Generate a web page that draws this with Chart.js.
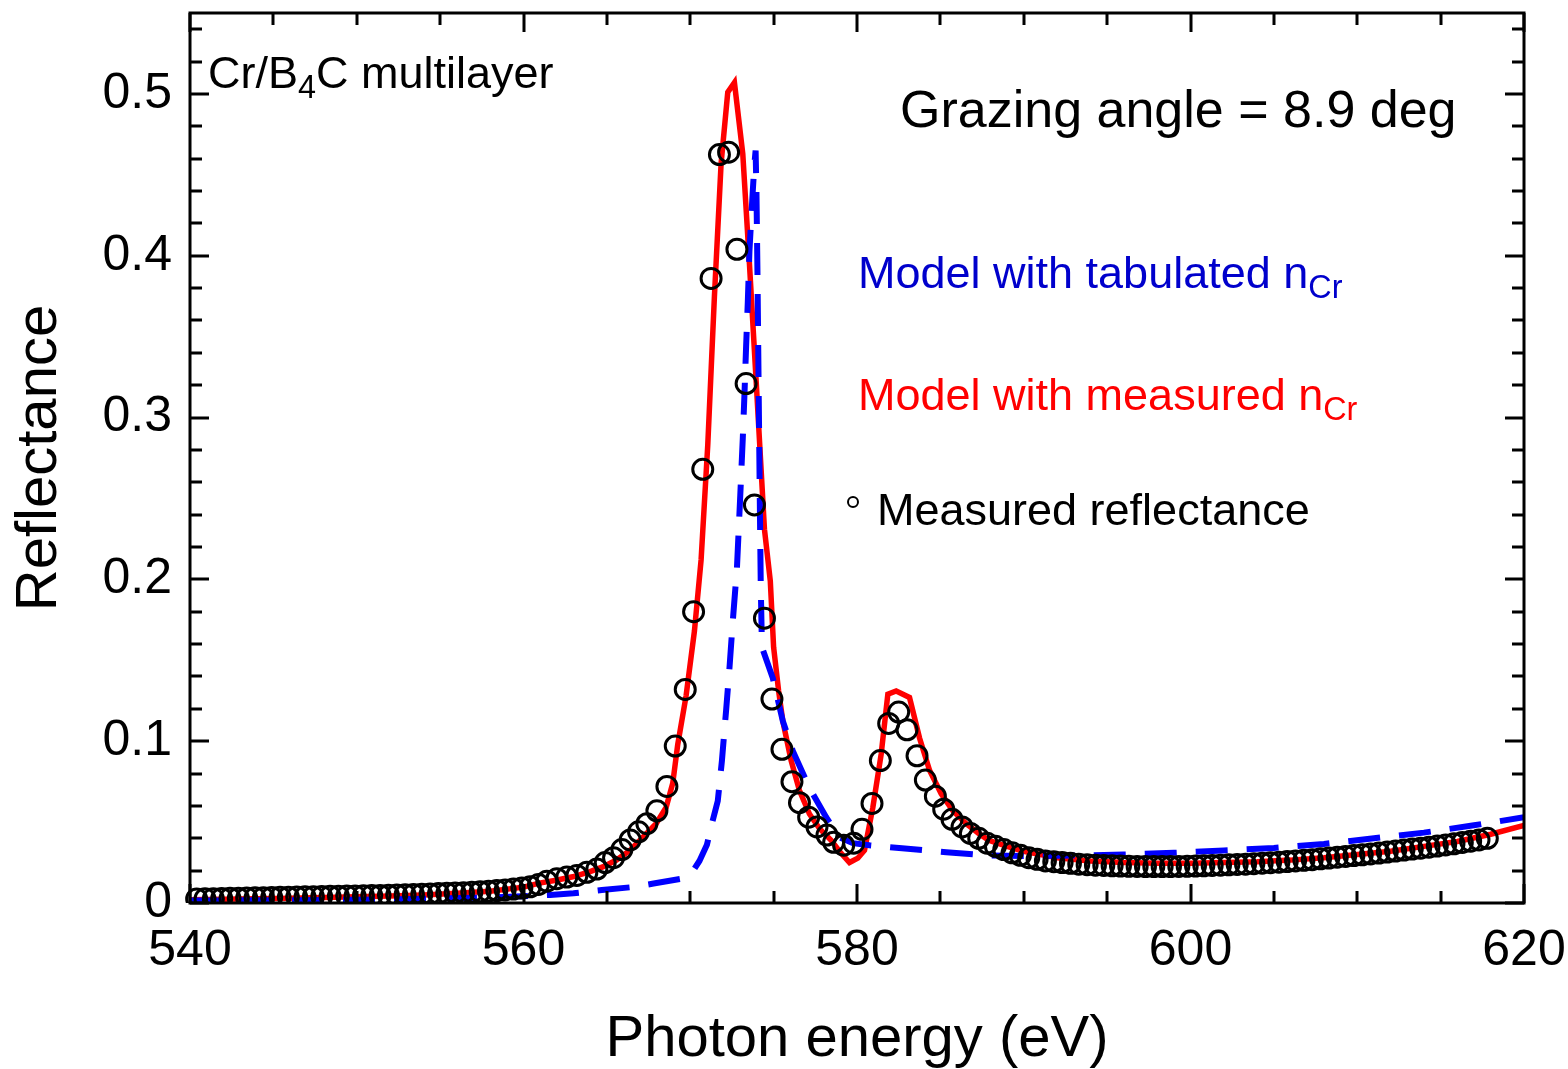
<!DOCTYPE html>
<html>
<head>
<meta charset="utf-8">
<script src="https://cdn.jsdelivr.net/npm/chart.js@4.4.1/dist/chart.umd.min.js"></script>
<style>
    html, body { margin: 0; padding: 0; background: #fff; }
    #wrap { width: 1568px; height: 1069px; }
</style>
</head>
<body>
<div id="wrap"><canvas id="myChart" width="1568" height="1069"></canvas></div>
<script>
// axis ticks
const xTicks = [540, 560, 580, 600, 620];
const yTicks = [0, 0.1, 0.2, 0.3, 0.4, 0.5];

// measured reflectance (circles)
const measE = [
    540.4, 540.9, 541.4, 541.9, 542.4, 542.9, 543.4, 543.9, 544.4, 544.9,
    545.4, 545.9, 546.4, 546.9, 547.4, 547.9, 548.4, 548.9, 549.4, 549.9,
    550.4, 550.9, 551.4, 551.9, 552.4, 552.9, 553.4, 553.9, 554.4, 554.9,
    555.4, 555.9, 556.4, 556.9, 557.4, 557.9, 558.4, 558.9, 559.4, 559.9,
    560.4, 560.9, 561.4, 562.0, 562.6, 563.2, 563.8, 564.4, 564.9, 565.4,
    565.9, 566.4, 566.9, 567.4, 568.0, 568.6, 569.1, 569.7, 570.2, 570.75,
    571.25, 571.75, 572.3, 572.8, 573.35, 573.85, 574.45, 574.9, 575.5, 576.1,
    576.55, 577.1, 577.6, 578.2, 578.6, 579.2, 579.8, 580.3, 580.9, 581.4,
    581.9, 582.5, 583.0, 583.6, 584.1, 584.7, 585.2, 585.7, 586.3, 586.8,
    587.3, 587.8, 588.3, 588.8, 589.3, 589.8, 590.3, 590.8, 591.3, 591.8,
    592.3, 592.8, 593.3, 593.8, 594.3, 594.8, 595.3, 595.8, 596.3, 596.8,
    597.3, 597.8, 598.3, 598.8, 599.3, 599.8, 600.3, 600.8, 601.3, 601.8,
    602.3, 602.8, 603.3, 603.8, 604.3, 604.8, 605.3, 605.8, 606.3, 606.8,
    607.3, 607.8, 608.3, 608.8, 609.3, 609.8, 610.3, 610.8, 611.3, 611.8,
    612.3, 612.8, 613.3, 613.8, 614.3, 614.8, 615.3, 615.8, 616.3, 616.8,
    617.3, 617.8
];
const measR = [
    0.0025, 0.0026, 0.0027, 0.0028, 0.0029, 0.0030, 0.0031, 0.0032, 0.0033, 0.0034,
    0.0035, 0.0036, 0.0037, 0.0038, 0.0039, 0.0040, 0.0041, 0.0042, 0.0043, 0.0044,
    0.0045, 0.0046, 0.0047, 0.0048, 0.0050, 0.0051, 0.0053, 0.0054, 0.0056, 0.0058,
    0.0060, 0.0062, 0.0064, 0.0067, 0.0070, 0.0073, 0.0077, 0.0081, 0.0086, 0.0092,
    0.0100, 0.0115, 0.0135, 0.015, 0.016, 0.017, 0.019, 0.021, 0.025, 0.028,
    0.033, 0.039, 0.044, 0.049, 0.057, 0.072, 0.097, 0.132, 0.180, 0.268,
    0.386, 0.4625, 0.464, 0.404, 0.321, 0.246, 0.176, 0.126, 0.095, 0.075,
    0.062, 0.053, 0.047, 0.042, 0.0375, 0.0357, 0.037, 0.0455, 0.0615, 0.088,
    0.111, 0.118, 0.107, 0.091, 0.076, 0.066, 0.058, 0.0517, 0.047, 0.043,
    0.040, 0.037, 0.035, 0.033, 0.031, 0.0295, 0.028, 0.027, 0.026, 0.0255,
    0.025, 0.0245, 0.024, 0.0237, 0.0234, 0.0232, 0.023, 0.0228, 0.0227, 0.0226,
    0.0225, 0.0225, 0.0225, 0.0225, 0.0226, 0.0227, 0.0228, 0.023, 0.0232, 0.0234,
    0.0236, 0.0238, 0.024, 0.0243, 0.0246, 0.0249, 0.0252, 0.0256, 0.026, 0.0264,
    0.0268, 0.0273, 0.0278, 0.0283, 0.0288, 0.0293, 0.0298, 0.0303, 0.0309, 0.0315,
    0.0321, 0.0327, 0.0333, 0.0339, 0.0345, 0.0352, 0.0359, 0.0366, 0.0374, 0.0382,
    0.039, 0.0400
];

// model with measured n_Cr (red solid)
const redE = [
    540, 542, 544, 546, 548, 550, 552, 554, 556, 558,
    560, 560.95, 561.95, 562.95, 563.95, 564.75, 565.55, 566.4, 567.15, 567.95,
    568.55, 568.95, 569.25, 569.75, 570.25, 570.65, 571.05, 571.45, 571.85, 572.25,
    572.65, 573.15, 573.55, 573.95, 574.45, 574.8, 575.0, 575.3, 575.55, 576.05,
    576.55, 577.15, 577.75, 578.45, 579.05, 579.55, 580.05, 580.45, 580.95, 581.45,
    581.85, 582.35, 583.15, 583.75, 584.35, 585.05, 585.75, 586.55, 587.3, 587.9,
    589, 590, 591, 592, 594, 596, 598, 600, 602, 604,
    606, 608, 610, 612, 614, 616, 618, 620
];
const redR = [
    0.002, 0.0023, 0.0026, 0.003, 0.0034, 0.0038, 0.0043, 0.005, 0.006, 0.0072,
    0.0098, 0.0123, 0.0141, 0.0162, 0.0193, 0.0223, 0.0264, 0.0326, 0.0406, 0.049,
    0.059, 0.074, 0.098, 0.128, 0.168, 0.212, 0.283, 0.375, 0.457, 0.501,
    0.507, 0.463, 0.395, 0.323, 0.231, 0.199, 0.158, 0.131, 0.1125, 0.088,
    0.0695, 0.055, 0.046, 0.0387, 0.0307, 0.025, 0.0277, 0.0326, 0.059, 0.092,
    0.129, 0.131, 0.127, 0.102, 0.082, 0.0675, 0.057, 0.049, 0.043, 0.0387,
    0.035, 0.032, 0.030, 0.028, 0.026, 0.025, 0.0245, 0.0245, 0.025, 0.0255,
    0.0265, 0.028, 0.030, 0.032, 0.035, 0.038, 0.0425, 0.048
];

// model with tabulated n_Cr (blue dashed)
const blueE = [
    540, 545, 550, 555, 558.4, 561.6, 563, 564.7, 566.5, 567.8,
    569.5, 570.05, 570.55, 571.0, 571.25, 571.65, 571.9, 572.15, 572.35, 572.55,
    572.8, 573.0, 573.15, 573.25, 573.35, 573.45, 573.55, 573.65, 573.75, 573.85,
    573.92, 573.97, 574.03, 574.08, 574.13, 574.18, 574.23, 574.3, 574.95, 575.55,
    576.15, 577.15, 578.15, 578.95, 579.75, 580.75, 582.7, 585.35, 587.7, 590,
    593, 596, 599, 602, 605, 608, 611, 614, 617, 620
];
const blueR = [
    0.0015, 0.0017, 0.002, 0.0028, 0.0035, 0.005, 0.006, 0.008, 0.0098, 0.012,
    0.015, 0.018, 0.026, 0.036, 0.047, 0.063, 0.088, 0.119, 0.145, 0.174,
    0.207, 0.252, 0.287, 0.314, 0.344, 0.371, 0.403, 0.422, 0.440, 0.457,
    0.465, 0.44, 0.39, 0.34, 0.29, 0.24, 0.195, 0.158, 0.139, 0.1125,
    0.094, 0.071, 0.053, 0.0406, 0.037, 0.0357, 0.0338, 0.0314, 0.0295, 0.029,
    0.0293, 0.030, 0.031, 0.0325, 0.034, 0.0365, 0.040, 0.0435, 0.048, 0.053
];

const FONT = "'Liberation Sans', Arial, Helvetica, sans-serif";

const toPoints = (xs, ys) => xs.map((x, i) => ({ x: x, y: ys[i] }));

// frame with inward ticks on all four sides
const framePlugin = {
    id: "frame",
    afterDatasetsDraw(chart) {
        const { ctx, chartArea: a, scales: { x, y } } = chart;
        ctx.save();
        ctx.strokeStyle = "#000";
        ctx.lineWidth = 3;
        ctx.lineCap = "butt";
        ctx.beginPath();
        for (let v = 540; v <= 620; v += 5) {
            const len = v % 20 === 0 ? 19 : 12;
            const px = Math.round(x.getPixelForValue(v));
            ctx.moveTo(px, a.bottom); ctx.lineTo(px, a.bottom - len);
            ctx.moveTo(px, a.top); ctx.lineTo(px, a.top + len);
        }
        for (let k = 0; k <= 27; k++) {
            const len = k % 5 === 0 ? 19 : 12;
            const py = Math.round(y.getPixelForValue(k * 0.02));
            ctx.moveTo(a.left, py); ctx.lineTo(a.left + len, py);
            ctx.moveTo(a.right, py); ctx.lineTo(a.right - len, py);
        }
        ctx.stroke();
        ctx.strokeRect(a.left, a.top, a.right - a.left, a.bottom - a.top);
        ctx.restore();
    }
};

// annotation texts with subscripts
const notesPlugin = {
    id: "notes",
    afterDraw(chart) {
        const ctx = chart.ctx;
        ctx.save();
        ctx.textAlign = "left";
        ctx.textBaseline = "alphabetic";

        function write(x, y, parts, size, color) {
            ctx.fillStyle = color;
            parts.forEach(p => {
                const s = p.sub ? size * 0.72 : size;
                ctx.font = s + "px " + FONT;
                ctx.fillText(p.t, x, p.sub ? y + size * 0.22 : y);
                x += ctx.measureText(p.t).width;
            });
        }

        write(208, 88, [{ t: "Cr/B" }, { t: "4", sub: true }, { t: "C multilayer" }], 45, "#000");
        write(900, 127, [{ t: "Grazing angle = 8.9 deg" }], 52, "#000");
        write(858, 288, [{ t: "Model with tabulated n" }, { t: "Cr", sub: true }], 45, "#0000cc");
        write(858, 410, [{ t: "Model with measured n" }, { t: "Cr", sub: true }], 45, "#ff0000");
        write(877, 525, [{ t: "Measured reflectance" }], 45, "#000");

        ctx.beginPath();
        ctx.arc(853, 502, 5, 0, Math.PI * 2);
        ctx.lineWidth = 2;
        ctx.strokeStyle = "#000";
        ctx.stroke();
        ctx.restore();
    }
};

new Chart(document.getElementById("myChart"), {
    type: "scatter",
    data: {
        datasets: [
            {
                label: "Measured reflectance",
                data: toPoints(measE, measR),
                showLine: false,
                pointStyle: "circle",
                pointRadius: 10,
                pointBorderWidth: 3,
                pointBorderColor: "#000",
                pointBackgroundColor: "rgba(0,0,0,0)",
                clip: { left: 12, top: 12, right: 12, bottom: 0 },
            },
            {
                label: "Model with tabulated n_Cr",
                data: toPoints(blueE, blueR),
                showLine: true,
                borderColor: "#0000ff",
                borderWidth: 6,
                borderDash: [32, 19],
                pointRadius: 0,
                tension: 0,
                clip: 0,
            },
            {
                label: "Model with measured n_Cr",
                data: toPoints(redE, redR),
                showLine: true,
                borderColor: "#ff0000",
                borderWidth: 5.5,
                pointRadius: 0,
                tension: 0,
                clip: 0,
            },
        ],
    },
    options: {
        responsive: false,
        animation: false,
        devicePixelRatio: 1,
        layout: { padding: { top: 10, right: 44, left: 0, bottom: 0 } },
        plugins: {
            legend: { display: false },
            tooltip: { enabled: false },
        },
        scales: {
            x: {
                type: "linear",
                min: 540,
                max: 620,
                afterBuildTicks: s => { s.ticks = xTicks.map(v => ({ value: v })); },
                afterFit: s => { s.height = 166; s.paddingLeft = 0; s.paddingRight = 0; },
                grid: { display: false, drawTicks: false },
                border: { display: false },
                ticks: {
                    padding: 18,
                    color: "#000",
                    font: { family: FONT, size: 50 },
                    maxRotation: 0,
                    autoSkip: false,
                },
                title: {
                    display: true,
                    text: "Photon energy (eV)",
                    color: "#000",
                    font: { family: FONT, size: 58, lineHeight: 1 },
                    padding: { top: 0, bottom: 0 },
                },
            },
            y: {
                type: "linear",
                min: 0,
                max: 0.55,
                afterBuildTicks: s => { s.ticks = yTicks.map(v => ({ value: v })); },
                afterFit: s => { s.width = 190; s.paddingTop = 0; s.paddingBottom = 0; },
                grid: { display: false, drawTicks: false },
                border: { display: false },
                ticks: {
                    padding: 18,
                    color: "#000",
                    font: { family: FONT, size: 50 },
                    callback: v => v === 0 ? "0" : v.toFixed(1),
                },
                title: {
                    display: true,
                    text: "Reflectance",
                    color: "#000",
                    font: { family: FONT, size: 58, lineHeight: 1 },
                    padding: { top: 11, bottom: 0 },
                },
            },
        },
    },
    plugins: [framePlugin, notesPlugin],
});
</script>
</body>
</html>
